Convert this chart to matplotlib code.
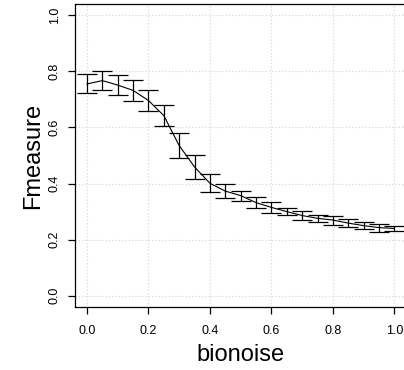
import matplotlib
matplotlib.use("Agg")
import matplotlib.pyplot as plt
import numpy as np

plt.rcParams['font.family'] = ['Liberation Sans', 'DejaVu Sans']

bionoise = [0.00, 0.05, 0.10, 0.15, 0.20, 0.25, 0.30, 0.35, 0.40, 0.45, 0.50,
            0.55, 0.60, 0.65, 0.70, 0.75, 0.80, 0.85, 0.90, 0.95, 1.00]
fmeasure = [0.755, 0.767, 0.751, 0.732, 0.696, 0.642, 0.535, 0.459, 0.401, 0.373, 0.357,
            0.332, 0.315, 0.300, 0.286, 0.276, 0.270, 0.259, 0.250, 0.243, 0.240]
err = [0.034, 0.034, 0.036, 0.038, 0.038, 0.038, 0.045, 0.044, 0.032, 0.024, 0.018,
       0.019, 0.020, 0.013, 0.016, 0.013, 0.016, 0.013, 0.012, 0.014, 0.010]
xticks = [0.0, 0.2, 0.4, 0.6, 0.8, 1.0]
yticks = [0.0, 0.2, 0.4, 0.6, 0.8, 1.0]
xtick_labels = ["0.0", "0.2", "0.4", "0.6", "0.8", "1.0"]
ytick_labels = ["0.0", "0.2", "0.4", "0.6", "0.8", "1.0"]

fig = plt.figure(figsize=(4.04, 3.70), dpi=100)
ax = fig.add_axes([74.7/404, 1 - 307/370, (406.7 - 74.7)/404, (307 - 4)/370])

ax.plot(bionoise, fmeasure, color='black', lw=0.8, zorder=3)
ax.errorbar(bionoise, fmeasure, yerr=err, fmt='none', ecolor='black',
            elinewidth=0.9, capsize=7.5, capthick=0.9, zorder=3)

ax.set_xlim(-0.04, 1.04)
ax.set_ylim(-0.04, 1.04)
ax.set_xticks(xticks)
ax.set_xticklabels(xtick_labels)
ax.set_yticks(yticks)
ax.set_yticklabels(ytick_labels, rotation=90, va='center')

ax.grid(True, color='#d3d3d3', linestyle=(0, (1, 2)), linewidth=0.8)
ax.set_axisbelow(True)

for s in ax.spines.values():
    s.set_linewidth(0.9)
    s.set_color('black')

ax.tick_params(axis='both', direction='out', length=5, width=0.9,
               labelsize=9, colors='black')
ax.tick_params(axis='x', pad=8)
ax.tick_params(axis='y', pad=5)

ax.set_xlabel("bionoise", fontsize=17)
ax.xaxis.set_label_coords(0.5, -(355 - 307) / 303)
ax.xaxis.label.set_va('center')
ax.set_ylabel("Fmeasure", fontsize=17)
ax.yaxis.set_label_coords((33 - 74.7) / 332, 0.5)
ax.yaxis.label.set_va('center')

fig.savefig("out.png", dpi=100)
